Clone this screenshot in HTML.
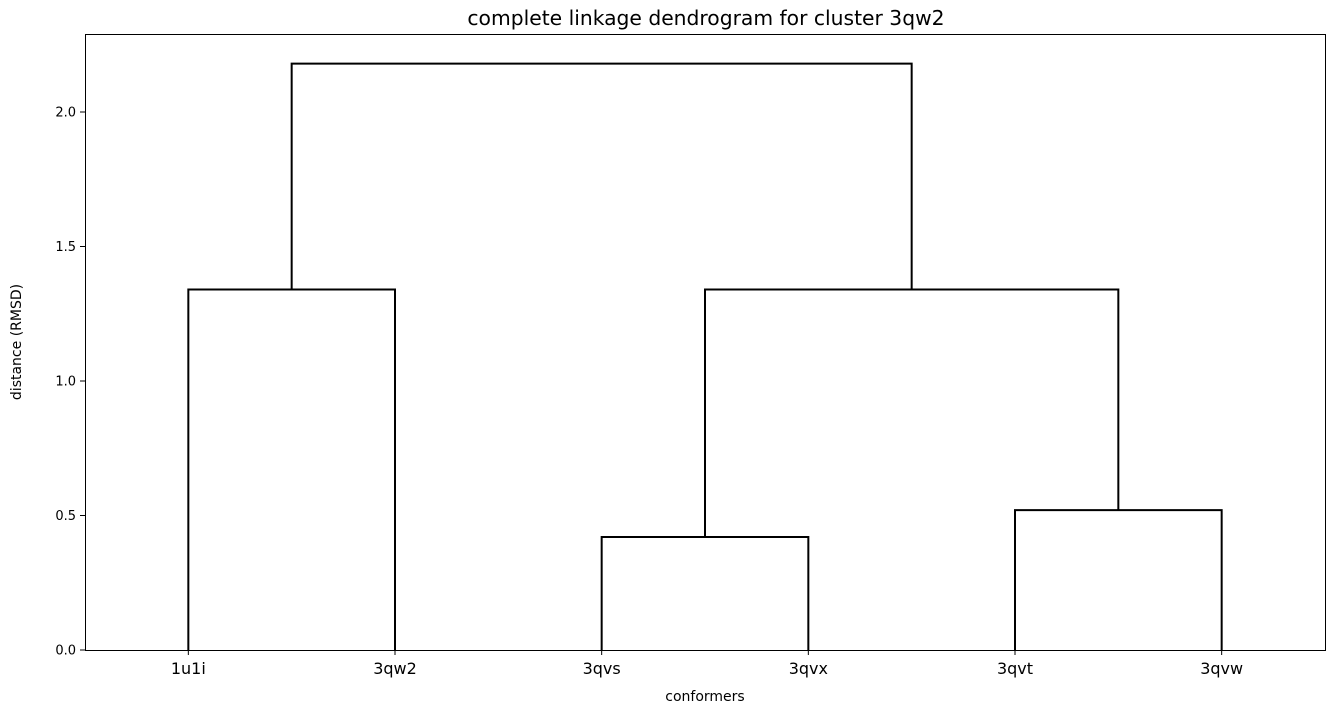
<!DOCTYPE html>
<html><head><meta charset="utf-8"><style>
body{margin:0;background:#fff;font-family:"Liberation Sans","DejaVu Sans",sans-serif;}
</style></head><body>
<svg id="chart" width="1334" height="714" xmlns="http://www.w3.org/2000/svg">
<rect width="1334" height="714" fill="#fff"/>
<text x="706" y="25" font-size="20.3" text-anchor="middle" font-family="DejaVu Sans, sans-serif">complete linkage dendrogram for cluster 3qw2</text>
<g id="marks"></g>
<rect x="85.5" y="34.5" width="1240" height="616" fill="none" stroke="#000" stroke-width="1" shape-rendering="crispEdges"/>
<g id="axes" font-family="DejaVu Sans, sans-serif"></g>
<text x="705" y="701" font-size="14" text-anchor="middle" font-family="DejaVu Sans, sans-serif">conformers</text>
<text transform="translate(21,342) rotate(-90)" font-size="14" text-anchor="middle" font-family="DejaVu Sans, sans-serif">distance (RMSD)</text>
</svg>
<script>
const leafLabels = ["1u1i","3qw2","3qvs","3qvx","3qvt","3qvw"];
const mergeHeights = [0.42, 0.52, 1.34, 1.34, 2.18];
const mergeLeft = [2, 4, 0, 6, 8];
const mergeRight = [3, 5, 1, 7, 9];
const yTicks = [0.0, 0.5, 1.0, 1.5, 2.0];
const yMax = 2.29;

const X0 = 85, X1 = 1325, Y0 = 650, Y1 = 34;
const xs = v => X0 + (v / 60) * (X1 - X0);
const ys = v => Y0 - (v / yMax) * (Y0 - Y1);
const NS = "http://www.w3.org/2000/svg";
const marks = document.getElementById('marks');
const axes = document.getElementById('axes');

const pos = leafLabels.map((_, i) => 5 + 10 * i);
const hgt = leafLabels.map(() => 0);
mergeHeights.forEach((h, k) => {
  const a = mergeLeft[k], b = mergeRight[k];
  const p = document.createElementNS(NS, 'path');
  p.setAttribute('d', `M${xs(pos[a])},${ys(hgt[a])}V${ys(h)}H${xs(pos[b])}V${ys(hgt[b])}`);
  p.setAttribute('fill', 'none');
  p.setAttribute('stroke', '#000');
  p.setAttribute('stroke-width', '2');
  
  
  marks.appendChild(p);
  pos.push((pos[a] + pos[b]) / 2);
  hgt.push(h);
});

yTicks.forEach(t => {
  const y = ys(t);
  const l = document.createElementNS(NS, 'line');
  l.setAttribute('x1', X0 - 5); l.setAttribute('x2', X0);
  l.setAttribute('y1', y); l.setAttribute('y2', y);
  l.setAttribute('stroke', '#000');
  
  
  axes.appendChild(l);
  const tx = document.createElementNS(NS, 'text');
  tx.setAttribute('x', X0 - 9); tx.setAttribute('y', y + 4.5);
  tx.setAttribute('font-size', '13'); tx.setAttribute('text-anchor', 'end');
  tx.textContent = t.toFixed(1);
  
  
  axes.appendChild(tx);
});
leafLabels.forEach((lab, i) => {
  const x = xs(5 + 10 * i);
  const l = document.createElementNS(NS, 'line');
  l.setAttribute('x1', x); l.setAttribute('x2', x);
  l.setAttribute('y1', Y0); l.setAttribute('y2', Y0 + 5);
  l.setAttribute('stroke', '#000');
  
  
  axes.appendChild(l);
  const tx = document.createElementNS(NS, 'text');
  tx.setAttribute('x', x); tx.setAttribute('y', Y0 + 24);
  tx.setAttribute('font-size', '16'); tx.setAttribute('text-anchor', 'middle');
  tx.textContent = lab;
  
  
  axes.appendChild(tx);
});
</script>
</body></html>
